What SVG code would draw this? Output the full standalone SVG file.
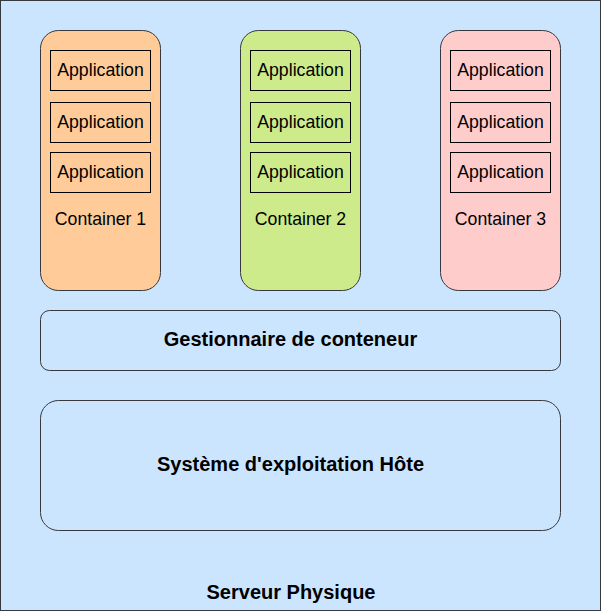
<svg xmlns="http://www.w3.org/2000/svg" width="601" height="611" viewBox="0 0 601 611">
<style>
.cont{stroke:#36393d;stroke-width:1}
.app{fill:none;stroke:#000;stroke-width:1}
.t{font-family:"Liberation Sans",Arial,sans-serif;font-size:17.7px;fill:#000;text-anchor:middle}
.b{font-family:"Liberation Sans",Arial,sans-serif;font-size:20px;font-weight:bold;fill:#000;text-anchor:middle}
.layer{fill:none;stroke:#36393d;stroke-width:1}
</style>
<g id="server">
<rect x="0.5" y="0.5" width="600" height="610" fill="#cce5ff" stroke="#36393d"/>
<text class="b" x="291" y="599">Serveur Physique</text>
</g>
<g id="container1">
<rect class="cont" x="40.5" y="30.5" width="120" height="260" rx="18" fill="#ffcc99"/>
<rect class="app" x="50.5" y="50.5" width="100" height="40"/>
<text class="t" x="100.5" y="76">Application</text>
<rect class="app" x="50.5" y="102.5" width="100" height="40"/>
<text class="t" x="100.5" y="128">Application</text>
<rect class="app" x="50.5" y="152.5" width="100" height="40"/>
<text class="t" x="100.5" y="178">Application</text>
<text class="t" x="100.5" y="225">Container 1</text>
</g>
<g id="container2">
<rect class="cont" x="240.5" y="30.5" width="120" height="260" rx="18" fill="#cdeb8b"/>
<rect class="app" x="250.5" y="50.5" width="100" height="40"/>
<text class="t" x="300.5" y="76">Application</text>
<rect class="app" x="250.5" y="102.5" width="100" height="40"/>
<text class="t" x="300.5" y="128">Application</text>
<rect class="app" x="250.5" y="152.5" width="100" height="40"/>
<text class="t" x="300.5" y="178">Application</text>
<text class="t" x="300.5" y="225">Container 2</text>
</g>
<g id="container3">
<rect class="cont" x="440.5" y="30.5" width="120" height="260" rx="18" fill="#ffcccc"/>
<rect class="app" x="450.5" y="50.5" width="100" height="40"/>
<text class="t" x="500.5" y="76">Application</text>
<rect class="app" x="450.5" y="102.5" width="100" height="40"/>
<text class="t" x="500.5" y="128">Application</text>
<rect class="app" x="450.5" y="152.5" width="100" height="40"/>
<text class="t" x="500.5" y="178">Application</text>
<text class="t" x="500.5" y="225">Container 3</text>
</g>
<g id="manager">
<rect class="layer" x="40.5" y="310.5" width="520" height="60" rx="9"/>
<text class="b" x="290.5" y="346">Gestionnaire de conteneur</text>
</g>
<g id="os">
<rect class="layer" x="40.5" y="400.5" width="520" height="130" rx="18"/>
<text class="b" x="290.5" y="471">Système d'exploitation Hôte</text>
</g>
<g id="connectors"/>
</svg>
